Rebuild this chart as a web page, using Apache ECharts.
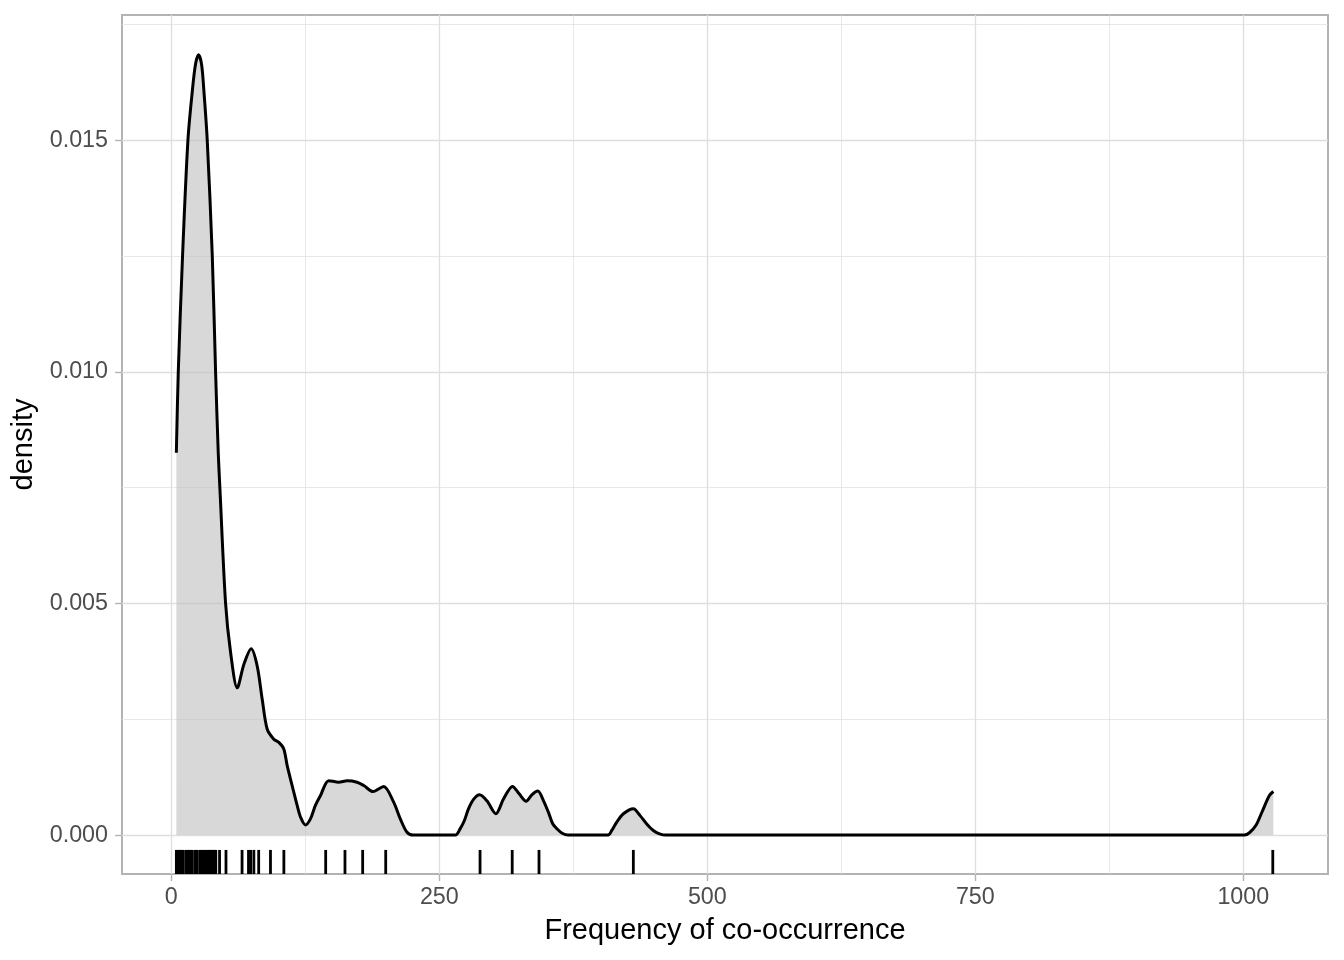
<!DOCTYPE html>
<html>
<head>
<meta charset="utf-8">
<script src="https://cdn.jsdelivr.net/npm/echarts@6/dist/echarts.min.js"></script>
<style>
html,body{margin:0;padding:0;background:#ffffff;}
#chart{width:1344px;height:960px;}
</style>
</head>
<body>
<div id="chart"></div>
<script>
// Density curve (x = frequency, y = density)
const densityX = [4.7, 6.5, 10.5, 15.5, 19.6, 22.6, 25.4, 28.2, 30.4, 33.5, 38.2, 41.3, 43.8, 45.4, 50.6, 55.3, 61.5, 67.8, 74.5, 80.1, 84.8, 89.4, 95.6, 100.3, 104.9, 108.1, 112.7, 117.4, 120.5, 125.1, 129.8, 134.4, 139.1, 146.8, 156.2, 164, 173.3, 179.5, 188.2, 198.1, 207.4, 213.6, 219.9, 225.7, 264.9, 269.5, 273.3, 277.3, 281.9, 287.5, 294.4, 302.8, 309.9, 318.3, 324.5, 331, 336.3, 341.9, 347.2, 351.8, 355.9, 359.6, 364.6, 370.2, 407.4, 410.9, 415.5, 421.7, 431, 437.3, 443.5, 449.6, 456.1, 461.5, 1001, 1005.7, 1011.8, 1018, 1024.2, 1028];
const densityY = [0.00825, 0.01000, 0.01251, 0.01500, 0.01606, 0.01664, 0.01684, 0.01664, 0.01606, 0.01500, 0.01251, 0.01000, 0.00824, 0.00745, 0.00501, 0.00394, 0.00318, 0.00369, 0.00402, 0.00365, 0.00293, 0.00229, 0.00207, 0.00200, 0.00186, 0.00150, 0.00107, 0.00064, 0.00039, 0.00022, 0.00035, 0.00064, 0.00085, 0.001175, 0.00114, 0.00117, 0.00114, 0.00107, 0.00094, 0.00105, 0.00071, 0.00035, 0.00006, 0, 0, 0.00014, 0.00031, 0.00057, 0.00077, 0.00087, 0.00074, 0.00046, 0.00078, 0.00105, 0.00089, 0.00073, 0.00087, 0.00095, 0.00074, 0.00049, 0.00024, 0.00014, 0.00004, 0, 0, 0.0001, 0.00028, 0.00046, 0.00057, 0.00042, 0.00024, 0.0001, 0.00002, 0, 0, 0.00005, 0.00021, 0.00053, 0.00085, 0.00094];
// Rug (observed values)
const rugValues = [4.7, 6, 7, 8, 9, 10, 11, 13.5, 14.5, 15.5, 16.5, 17.5, 18.5, 19.5, 22, 23, 24, 26.5, 27.5, 28.5, 29.5, 30.5, 31.5, 32.5, 33.5, 34.5, 35.5, 36.5, 37.5, 38.5, 39.5, 40.5, 41.5, 45, 51, 66, 72, 74, 77, 81.5, 92.5, 105, 144, 162, 178.5, 200, 288, 318, 343, 431, 1027.5];
// Axis ticks
const xMajorTicks = [0, 250, 500, 750, 1000];
const xMinorTicks = [125, 375, 625, 875];
const yMajorTicks = [0, 0.005, 0.010, 0.015];
const yMinorTicks = [0.0025, 0.0075, 0.0125, 0.0175];
const xRange = [-46, 1079];
const yRange = [-0.00084, 0.0177];

const FONT = '"Liberation Sans", Arial, Helvetica, sans-serif';
const chart = echarts.init(document.getElementById('chart'), null, {renderer: 'canvas'});

const densityData = densityX.map((x, i) => [x, densityY[i]]);
const rugData = rugValues.map(v => [v, 0]);

chart.setOption({
  animation: false,
  backgroundColor: '#ffffff',
  grid: {
    left: 122, top: 15, width: 1206, height: 859,
    show: true, borderColor: '#b3b3b3', borderWidth: 2, backgroundColor: 'transparent'
  },
  xAxis: [
    {
      type: 'value', gridIndex: 0, min: xRange[0], max: xRange[1], position: 'bottom',
      name: 'Frequency of co-occurrence', nameLocation: 'middle', nameGap: 42,
      nameTextStyle: {fontFamily: FONT, fontSize: 29, color: '#000000'},
      axisLine: {show: false, onZero: false},
      axisTick: {show: true, inside: false, customValues: xMajorTicks, length: 7, lineStyle: {color: '#b3b3b3', width: 1.4}},
      axisLabel: {show: true, customValues: xMajorTicks, margin: 12, fontFamily: FONT, fontSize: 23.3, color: '#4d4d4d',
        formatter: v => String(v)},
      splitLine: {show: true, lineStyle: {color: '#dedede', width: 1.3}}
    },
    {
      type: 'value', gridIndex: 0, min: xRange[0], max: xRange[1], position: 'top',
      axisLine: {show: false, onZero: false},
      axisTick: {show: false, customValues: xMinorTicks},
      axisLabel: {show: false},
      splitLine: {show: true, lineStyle: {color: '#dedede', width: 0.7}}
    }
  ],
  yAxis: [
    {
      type: 'value', gridIndex: 0, min: yRange[0], max: yRange[1], position: 'left',
      name: 'density', nameLocation: 'middle', nameGap: 81, nameRotate: 90,
      nameTextStyle: {fontFamily: FONT, fontSize: 29, color: '#000000'},
      axisLine: {show: false, onZero: false},
      axisTick: {show: true, inside: false, customValues: yMajorTicks, length: 7, lineStyle: {color: '#b3b3b3', width: 1.4}},
      axisLabel: {show: true, customValues: yMajorTicks, margin: 14, fontFamily: FONT, fontSize: 23.3, color: '#4d4d4d',
        formatter: v => v.toFixed(3)},
      splitLine: {show: true, lineStyle: {color: '#dedede', width: 1.3}}
    },
    {
      type: 'value', gridIndex: 0, min: yRange[0], max: yRange[1], position: 'right',
      axisLine: {show: false, onZero: false},
      axisTick: {show: false, customValues: yMinorTicks},
      axisLabel: {show: false},
      splitLine: {show: true, lineStyle: {color: '#dedede', width: 0.7}}
    }
  ],
  series: [
    {
      type: 'line', xAxisIndex: 0, yAxisIndex: 0, z: 2,
      data: densityData,
      smooth: 0.3,
      showSymbol: false, symbol: 'none',
      lineStyle: {color: '#000000', width: 3},
      areaStyle: {color: 'rgba(190,190,190,0.6)', opacity: 1, origin: 0},
      silent: true
    },
    {
      type: 'custom', xAxisIndex: 0, yAxisIndex: 0, z: 3,
      data: rugData,
      encode: {x: 0, y: 1},
      silent: true,
      renderItem: function (params, api) {
        const x = api.value(0);
        const b = api.coord([x, yRange[0]]);
        const t = api.coord([x, yRange[1]]);
        const len = (b[1] - t[1]) * 0.028;
        return {
          type: 'line',
          shape: {x1: b[0], y1: b[1], x2: b[0], y2: b[1] - len},
          style: {stroke: '#000000', lineWidth: 2.8, lineCap: 'butt'}
        };
      }
    }
  ]
});
</script>
</body>
</html>
